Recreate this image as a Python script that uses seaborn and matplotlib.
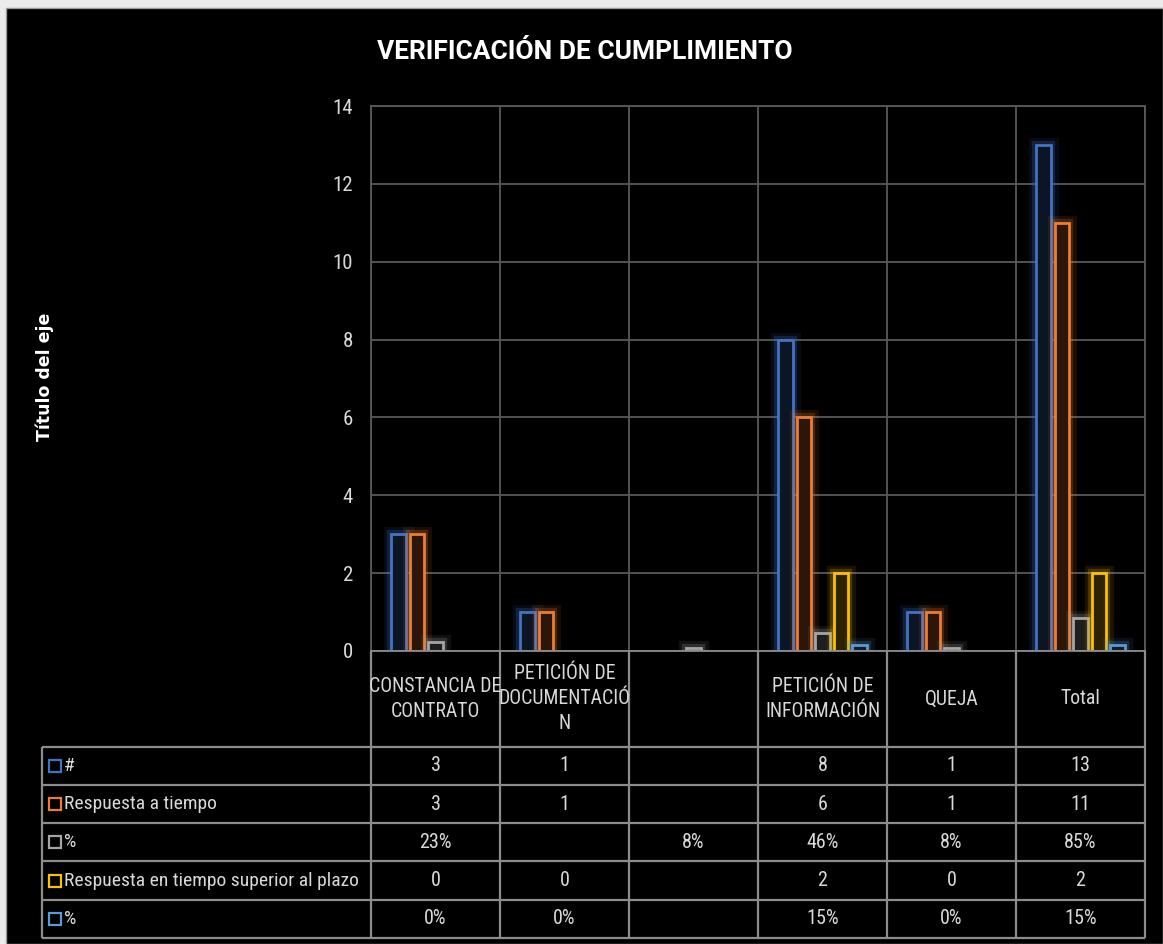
import matplotlib
matplotlib.use("Agg")
import matplotlib.pyplot as plt
import matplotlib.patheffects as pe
from matplotlib.colors import to_rgb
from matplotlib.patches import Rectangle
import numpy as np
import pandas as pd
import seaborn as sns

# datos del gráfico
categorias = ["CONSTANCIA DE\nCONTRATO", "PETICIÓN DE\nDOCUMENTACIÓ\nN", "",
              "PETICIÓN DE\nINFORMACIÓN", "QUEJA", "Total"]
series = ["#", "Respuesta a tiempo", "%", "Respuesta en tiempo superior al plazo", "%"]
total = [3, 1, np.nan, 8, 1, 13]
a_tiempo = [3, 1, np.nan, 6, 1, 11]
pct_a_tiempo = [0.23, np.nan, 0.08, 0.46, 0.08, 0.85]
fuera_plazo = [0, 0, np.nan, 2, 0, 2]
pct_fuera_plazo = [0, 0, np.nan, 0.15, 0, 0.15]
es_pct = [False, False, True, False, True]
y_ticks = [0, 2, 4, 6, 8, 10, 12, 14]

colores = ["#4472C4", "#ED7D31", "#A5A5A5", "#FFC000", "#5B9BD5"]
TXT = "#D9D9D9"
NARROW = ["Liberation Sans Narrow", "Roboto Condensed", "DejaVu Sans"]

sns.set_theme(style="dark")
plt.rcParams["font.family"] = NARROW

valores = [total, a_tiempo, pct_a_tiempo, fuera_plazo, pct_fuera_plazo]
claves = [f"{i}_{s}" for i, s in enumerate(series)]
filas = []
for clave, vals in zip(claves, valores):
    for cat, v in zip(categorias, vals):
        filas.append({"categoria": cat, "serie": clave, "valor": v})
df = pd.DataFrame(filas).dropna()

W, H = 1163, 944


def fx(px):
    return px / W


def fy(py):
    return 1 - py / H


fig = plt.figure(figsize=(W / 100, H / 100), dpi=100, facecolor="#EBEBEB")
fig.add_artist(Rectangle((fx(6), 0), 1 - fx(6), fy(8), transform=fig.transFigure,
                         facecolor="black", edgecolor="#9A9A9A", lw=1, zorder=-10))

ax = fig.add_axes([fx(371), fy(651), fx(1145) - fx(371), fy(106) - fy(651)])
ax.set_facecolor("black")
sns.barplot(data=df, x="categoria", y="valor", hue="serie", order=categorias,
            hue_order=claves, palette=colores, width=0.72, gap=0.22,
            errorbar=None, legend=False, ax=ax)

for cont, color in zip(ax.containers, colores):
    oscuro = tuple(np.array(to_rgb(color)) * 0.18)
    for bar in cont:
        if bar.get_height() == 0:
            bar.set_visible(False)
            continue
        bar.set_facecolor(oscuro)
        bar.set_edgecolor(color)
        bar.set_linewidth(2)
        bar.set_path_effects([pe.Stroke(linewidth=11, foreground=color, alpha=0.1),
                              pe.Stroke(linewidth=6, foreground=color, alpha=0.22),
                              pe.Normal()])

ax.set_xlim(-0.5, len(categorias) - 0.5)
ax.set_ylim(0, 14)
ax.set_yticks(y_ticks)
ax.set_xticks(np.arange(len(categorias) + 1) - 0.5)
ax.set_xticklabels([])
ax.set_xlabel("")
ax.set_ylabel("")
ax.set_axisbelow(True)
ax.grid(True, color="#595959", lw=1.3)
ax.tick_params(axis="x", length=0)
ax.tick_params(axis="y", length=0, pad=13, labelsize=15, labelcolor=TXT)
for s in ax.spines.values():
    s.set_color("#595959")
    s.set_linewidth(1.3)
ax.spines["bottom"].set_color("#8C8C8C")

# tabla de datos
tax = fig.add_axes([fx(42), fy(938), fx(1145) - fx(42), fy(651) - fy(938)])
x0 = -0.5 - (371 - 42) / 129
x1 = len(categorias) - 0.5
tax.set_xlim(x0, x1)
tax.set_ylim(7.5, 0)
tax.axis("off")
lc = "#8C8C8C"
bordes = np.arange(len(categorias) + 1) - 0.5
tax.vlines(bordes, 0, 2.5, color=lc, lw=1.6, clip_on=False)
tax.vlines(np.concatenate([[x0], bordes]), 2.5, 7.5, color=lc, lw=1.6, clip_on=False)
tax.hlines(np.arange(2.5, 8, 1), x0, x1, color=lc, lw=1.6, clip_on=False)

for j, cat in enumerate(categorias):
    tax.text(j, 1.25, cat, ha="center", va="center", color=TXT, fontsize=14.2,
             linespacing=1.4)

for i, (nombre, vals, pct, color) in enumerate(zip(series, valores, es_pct, colores)):
    yc = 3 + i
    tax.plot([x0 + 0.1], [yc], marker="s", ms=8.5, mfc="none", mec=color, mew=1.6,
             clip_on=False)
    tax.text(x0 + 0.17, yc, nombre, ha="left", va="center", color=TXT, fontsize=14)
    for j, v in enumerate(vals):
        if np.isnan(v):
            continue
        txt = f"{v:.0%}" if pct else f"{v:.0f}"
        tax.text(j, yc, txt, ha="center", va="center", color=TXT, fontsize=14.5)

fig.text(0.503, fy(52), "VERIFICACIÓN DE CUMPLIMIENTO", ha="center", va="center",
         color="white", fontsize=19, fontweight="bold", family=["Roboto", "DejaVu Sans"])
fig.text(fx(45), fy(377), "Título del eje", rotation=90, ha="center", va="center",
         color="white", fontsize=12.5, fontweight="bold", family="DejaVu Sans")

fig.savefig("out.png", dpi=100, facecolor=fig.get_facecolor())
